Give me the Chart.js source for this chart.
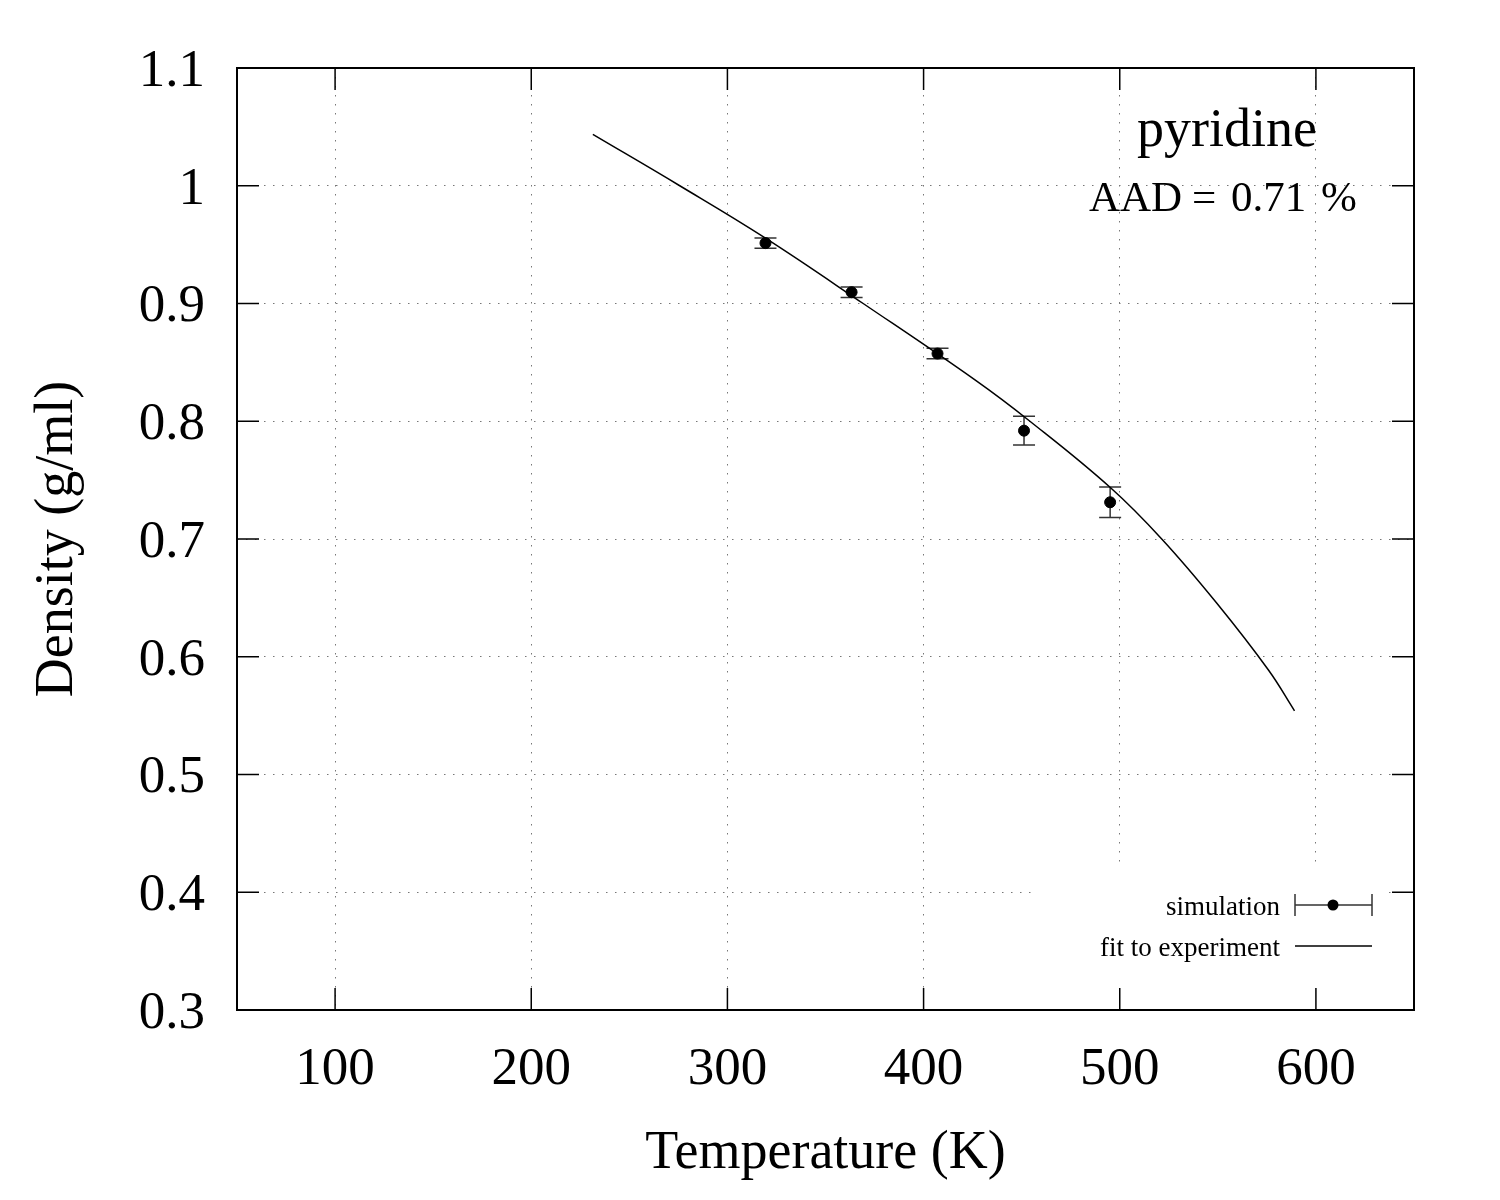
<!DOCTYPE html>
<html>
<head>
<meta charset="utf-8">
<title>pyridine density</title>
<script src="https://cdn.jsdelivr.net/npm/chart.js@4"></script>
<style>
  body { margin: 0; background: #fff; }
</style>
</head>
<body>
<canvas id="myChart" width="1500" height="1200"></canvas>
<script>
// simulation points with error bars
var simT = [319.4, 363.3, 407.1, 451.2, 495.1];
var simRho = [0.9513, 0.9096, 0.8575, 0.792, 0.7312];
var simErr = [0.0043, 0.0045, 0.0044, 0.0122, 0.013];

// fit to experiment
var fitT = [231.4, 275.7, 319.4, 369.2, 426.2, 454.2, 495.05, 521.4, 549.5, 575.8, 589.1];
var fitRho = [1.0436, 1.0, 0.9555, 0.9, 0.8351, 0.8, 0.7439, 0.7, 0.6454, 0.5887, 0.5541];

var xTicks = [100, 200, 300, 400, 500, 600];
var xTickLabels = ["100", "200", "300", "400", "500", "600"];
var yTicks = [0.3, 0.4, 0.5, 0.6, 0.7, 0.8, 0.9, 1.0, 1.1];
var yTickLabels = ["0.3", "0.4", "0.5", "0.6", "0.7", "0.8", "0.9", "1", "1.1"];

var serif = "'Liberation Serif', 'DejaVu Serif', serif";

function toPoints(xs, ys) {
  return xs.map((v, i) => ({ x: v, y: ys[i] }));
}

var frame = {
  id: "frame",
  beforeDatasetsDraw(chart) {
    var ctx = chart.ctx;
    var a = chart.chartArea;
    var x = chart.scales.x;
    var y = chart.scales.y;
    ctx.save();
    // the key box hides the grid behind it
    ctx.fillStyle = "#fff";
    ctx.fillRect(a.right - 379, a.bottom - 147, 352, 147);

    ctx.strokeStyle = "#333";
    ctx.lineWidth = 1.5;
    simT.forEach((t, i) => {
      var px = x.getPixelForValue(t);
      var top = y.getPixelForValue(simRho[i] + simErr[i]);
      var bot = y.getPixelForValue(simRho[i] - simErr[i]);
      ctx.beginPath();
      ctx.moveTo(px, top);
      ctx.lineTo(px, bot);
      ctx.moveTo(px - 11, top);
      ctx.lineTo(px + 11, top);
      ctx.moveTo(px - 11, bot);
      ctx.lineTo(px + 11, bot);
      ctx.stroke();
    });
    ctx.restore();
  },
  afterDatasetsDraw(chart) {
    var ctx = chart.ctx;
    var a = chart.chartArea;
    var x = chart.scales.x;
    var y = chart.scales.y;
    ctx.save();

    // inward ticks on all four sides
    ctx.strokeStyle = "#000";
    ctx.lineWidth = 1.5;
    ctx.beginPath();
    xTicks.forEach((v) => {
      var px = x.getPixelForValue(v);
      ctx.moveTo(px, a.bottom);
      ctx.lineTo(px, a.bottom - 22);
      ctx.moveTo(px, a.top);
      ctx.lineTo(px, a.top + 22);
    });
    yTicks.forEach((v) => {
      var py = y.getPixelForValue(v);
      ctx.moveTo(a.left, py);
      ctx.lineTo(a.left + 22, py);
      ctx.moveTo(a.right, py);
      ctx.lineTo(a.right - 22, py);
    });
    ctx.stroke();

    ctx.lineWidth = 2;
    ctx.strokeRect(a.left, a.top, a.right - a.left, a.bottom - a.top);

    // labels inside the plot
    ctx.fillStyle = "#000";
    ctx.textBaseline = "alphabetic";
    ctx.textAlign = "center";
    ctx.font = "54px " + serif;
    ctx.fillText("pyridine", 1227, 146);

    ctx.textAlign = "left";
    ctx.font = "43px " + serif;
    ctx.fillText("AAD", 1089, 211);
    ctx.fillText("=", 1192, 211);
    ctx.fillText("0.71", 1231, 211);
    ctx.fillText("%", 1321, 211);

    // key
    ctx.textAlign = "right";
    ctx.font = "27px " + serif;
    ctx.fillText("simulation", 1280, 915);
    ctx.fillText("fit to experiment", 1280, 956);

    ctx.strokeStyle = "#333";
    ctx.lineWidth = 1.5;
    ctx.beginPath();
    ctx.moveTo(1295, 905);
    ctx.lineTo(1372, 905);
    ctx.moveTo(1295, 894);
    ctx.lineTo(1295, 916);
    ctx.moveTo(1372, 894);
    ctx.lineTo(1372, 916);
    ctx.stroke();
    ctx.fillStyle = "#000";
    ctx.beginPath();
    ctx.arc(1333, 905, 5.5, 0, Math.PI * 2);
    ctx.fill();

    ctx.strokeStyle = "#000";
    ctx.beginPath();
    ctx.moveTo(1295, 946);
    ctx.lineTo(1372, 946);
    ctx.stroke();
    ctx.restore();
  },
};

window.onload = function () {
  Chart.defaults.font.family = serif;
  Chart.defaults.color = "#000";

  var ctx = document.getElementById("myChart").getContext("2d");
  var myChart = new Chart(ctx, {
    type: "scatter",
    data: {
      datasets: [
        {
          label: "fit to experiment",
          data: toPoints(fitT, fitRho),
          showLine: true,
          pointRadius: 0,
          borderColor: "#000",
          borderWidth: 1.5,
          tension: 0.4,
        },
        {
          label: "simulation",
          data: toPoints(simT, simRho),
          pointRadius: 5.5,
          pointHoverRadius: 5.5,
          backgroundColor: "#000",
          borderColor: "#000",
        },
      ],
    },
    options: {
      responsive: false,
      devicePixelRatio: 1,
      animation: false,
      layout: {
        padding: { left: 0, top: 68, right: 86, bottom: 0 },
      },
      plugins: {
        legend: { display: false },
        tooltip: { enabled: false },
      },
      scales: {
        x: {
          type: "linear",
          min: 50,
          max: 650,
          afterBuildTicks: (scale) => {
            scale.ticks = xTicks.map((v) => ({ value: v }));
          },
          afterFit: (scale) => {
            scale.height = 190;
          },
          ticks: {
            font: { size: 53 },
            padding: 28,
            callback: (v) => xTickLabels[xTicks.indexOf(v)],
          },
          grid: {
            color: "#777",
            lineWidth: 1,
            drawTicks: false,
          },
          border: { display: false, dash: [1.5, 7.5] },
          title: {
            display: true,
            text: "Temperature (K)",
            font: { size: 54 },
            padding: { top: 0, bottom: 14 },
          },
        },
        y: {
          type: "linear",
          min: 0.3,
          max: 1.1,
          afterBuildTicks: (scale) => {
            scale.ticks = yTicks.map((v) => ({ value: v }));
          },
          afterFit: (scale) => {
            scale.width = 237;
          },
          ticks: {
            font: { size: 53 },
            padding: 32,
            labelOffset: 4,
            callback: (v, i) => yTickLabels[i],
          },
          grid: {
            color: "#777",
            lineWidth: 1,
            drawTicks: false,
          },
          border: { display: false, dash: [1.5, 7.5] },
          title: {
            display: true,
            text: "Density (g/ml)",
            font: { size: 54 },
            padding: { top: 25, bottom: 0 },
          },
        },
      },
    },
    plugins: [frame],
  });
};
</script>
</body>
</html>
